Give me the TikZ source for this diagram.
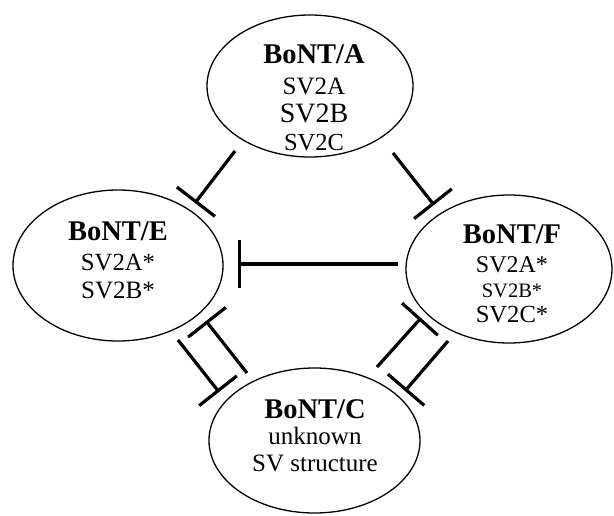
\documentclass[tikz,border=0pt]{standalone}
\usepackage{fontspec}
\setmainfont{Liberation Serif}
\usetikzlibrary{shapes.geometric,arrows.meta,calc}
\begin{document}
\begin{tikzpicture}[x=1pt,y=-1pt,
  tox/.style={ellipse, draw, line width=1.3pt, inner sep=0pt},
  inh/.style={line width=3.2pt, -{Bar[width=48pt]}},
  lbl/.style={anchor=base, inner sep=0pt},
  ttl/.style={lbl, font=\fontsize{28.5}{30}\selectfont\bfseries}]
\useasboundingbox (0,0) rectangle (614,515);
% ellipses
\node[tox, minimum width=206pt, minimum height=142pt] (A) at (310,86) {};
\node[tox, minimum width=210pt, minimum height=151pt] (E) at (118,265.5) {};
\node[tox, minimum width=206pt, minimum height=148pt] (F) at (509,269) {};
\node[tox, minimum width=211pt, minimum height=145pt] (C) at (314.5,440.5) {};
% texts A
\node[ttl] (A1) at (314,63) {BoNT/A};
\node[lbl, font=\fontsize{25}{27}\selectfont] (A2) at (314,94) {SV2A};
\node[lbl, font=\fontsize{28}{30}\selectfont] (A3) at (314,122) {SV2B};
\node[lbl, font=\fontsize{24.5}{26}\selectfont] (A4) at (314,150) {SV2C};
% texts E
\node[ttl] (E1) at (118,240) {BoNT/E};
\node[lbl, font=\fontsize{24.7}{26}\selectfont] (E2) at (118,270) {SV2A*};
\node[lbl, font=\fontsize{25}{27}\selectfont] (E3) at (118,298) {SV2B*};
% texts F
\node[ttl] (F1) at (512,243) {BoNT/F};
\node[lbl, font=\fontsize{24}{26}\selectfont] (F2) at (512,272) {SV2A*};
\node[lbl, font=\fontsize{20.5}{22}\selectfont] (F3) at (512,297) {SV2B*};
\node[lbl, font=\fontsize{24.6}{26}\selectfont] (F4) at (512,322) {SV2C*};
% texts C
\node[ttl] (C1) at (315,418) {BoNT/C};
\node[lbl, font=\fontsize{25}{27}\selectfont] (C2) at (315,444) {unknown};
\node[lbl, font=\fontsize{25}{27}\selectfont] (C3) at (315,471) {SV structure};
% inhibition connectors
\draw[inh] ($(A.center)+(-75,65)$) -- ($(E.center)+(77,-62.5)$);
\draw[inh] ($(A.center)+(83,67)$) -- ($(F.center)+(-75,-64)$);
\draw[inh] ($(F.center)+(-111,-5)$) -- ($(E.center)+(120,-1.5)$);
\draw[inh] ($(C.center)+(-67.5,-67.5)$) -- ($(E.center)+(88,55.5)$);
\draw[inh] ($(E.center)+(60,74.5)$) -- ($(C.center)+(-95.5,-48.5)$);
\draw[inh] ($(C.center)+(62.5,-73.5)$) -- ($(F.center)+(-88,49)$);
\draw[inh] ($(F.center)+(-61,72)$) -- ($(C.center)+(90.5,-49.5)$);
\end{tikzpicture}
\end{document}
